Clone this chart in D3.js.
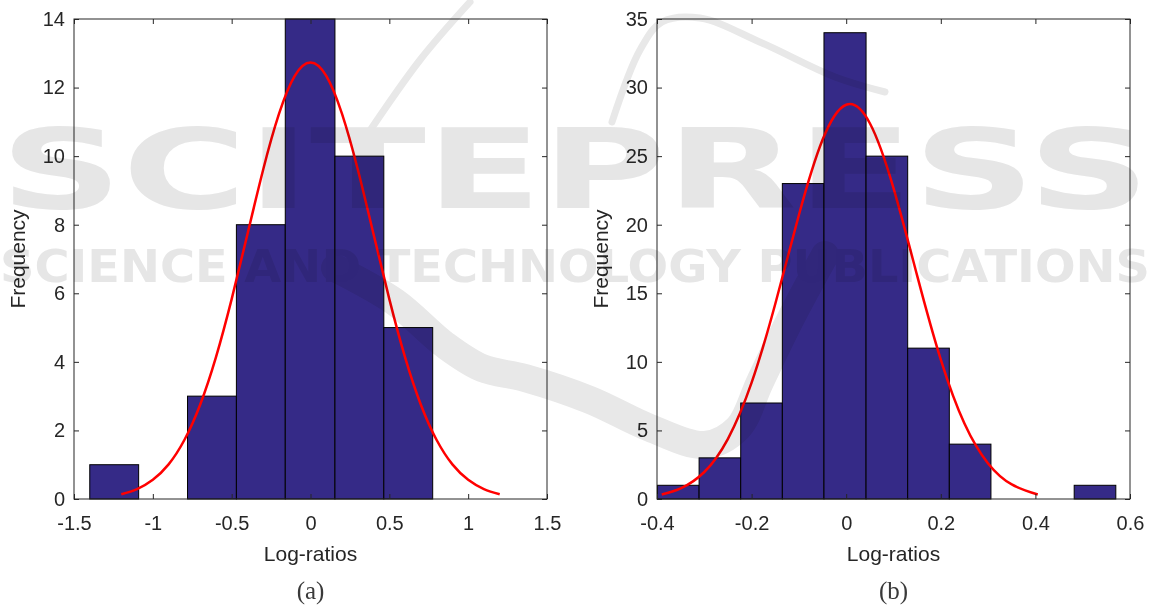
<!DOCTYPE html>
<html>
<head>
<meta charset="utf-8">
<script src="https://cdn.jsdelivr.net/npm/d3@7"></script>
<style>
  body { margin: 0; background: #fff; }
  text { font-family: "Liberation Sans", Arial, sans-serif; }
</style>
</head>
<body>
<div id="chart"></div>
<script>
// panel (a)
var edgesA = [-1.40, -1.09, -0.78, -0.47, -0.16, 0.155, 0.465, 0.775];
var countsA = [1, 0, 3, 8, 14, 10, 5];
var curveXA = [-1.2, -1.1, -1.0, -0.9, -0.8, -0.7, -0.6, -0.5, -0.4, -0.3, -0.2, -0.1, 0,
               0.1, 0.2, 0.3, 0.4, 0.5, 0.6, 0.7, 0.8, 0.9, 1.0, 1.1, 1.2];
var curveYA = [0.14, 0.29, 0.56, 1.01, 1.72, 2.75, 4.13, 5.83, 7.72, 9.61, 11.23, 12.34, 12.73,
               12.34, 11.23, 9.61, 7.72, 5.83, 4.13, 2.75, 1.72, 1.01, 0.56, 0.29, 0.14];
var xTicksA = [-1.5, -1, -0.5, 0, 0.5, 1, 1.5];
var yTicksA = [0, 2, 4, 6, 8, 10, 12, 14];

// panel (b)
var edgesB = [-0.399, -0.311, -0.223, -0.135, -0.047, 0.042, 0.130, 0.218, 0.306, 0.394, 0.482, 0.570];
var countsB = [1, 3, 7, 23, 34, 25, 11, 4, 0, 0, 1];
var curveXB = [-0.39, -0.35, -0.30, -0.25, -0.20, -0.15, -0.10, -0.05, 0.0, 0.05,
               0.10, 0.15, 0.20, 0.25, 0.30, 0.35, 0.405];
var curveYB = [0.33, 0.77, 1.97, 4.39, 8.48, 14.22, 20.71, 26.19, 28.75, 27.40,
               22.67, 16.29, 10.16, 5.50, 2.59, 1.06, 0.33];
var xTicksB = [-0.4, -0.2, 0, 0.2, 0.4, 0.6];
var yTicksB = [0, 5, 10, 15, 20, 25, 30, 35];

var width = 1150, height = 608;
var top_ = 19, bottom = 499;

var svg = d3.select("#chart")
  .append("svg")
  .attr("width", width)
  .attr("height", height);

function panel(opt) {
  var x = d3.scaleLinear().domain(opt.xDomain).range([opt.left, opt.right]);
  var y = d3.scaleLinear().domain(opt.yDomain).range([bottom, top_]);
  var g = svg.append("g");

  // bars
  var bins = opt.counts.map(function (c, i) {
    return { x0: opt.edges[i], x1: opt.edges[i + 1], n: c };
  }).filter(function (d) { return d.n > 0; });

  g.selectAll("rect.bar")
    .data(bins)
    .enter().append("rect")
    .attr("class", "bar")
    .attr("x", function (d) { return x(d.x0); })
    .attr("width", function (d) { return x(d.x1) - x(d.x0); })
    .attr("y", function (d) { return y(d.n); })
    .attr("height", function (d) { return y(0) - y(d.n); })
    .attr("fill", "#352a87")
    .attr("stroke", "#000")
    .attr("stroke-width", 1);

  // fitted curve
  var pts = opt.cx.map(function (v, i) { return [v, opt.cy[i]]; });
  g.append("path")
    .datum(pts)
    .attr("fill", "none")
    .attr("stroke", "#ff0000")
    .attr("stroke-width", 2.5)
    .attr("d", d3.line()
      .curve(d3.curveNatural)
      .x(function (d) { return x(d[0]); })
      .y(function (d) { return y(d[1]); }));

  // axes, ticks pointing inwards like matlab
  var fmt = function (d) { return String(d); };
  g.append("g")
    .attr("transform", "translate(0," + bottom + ")")
    .call(d3.axisBottom(x).tickValues(opt.xTicks).tickFormat(fmt)
      .tickSizeInner(-5).tickSizeOuter(0).tickPadding(17));
  g.append("g")
    .attr("transform", "translate(0," + top_ + ")")
    .call(d3.axisTop(x).tickValues(opt.xTicks).tickFormat("")
      .tickSizeInner(-5).tickSizeOuter(0));
  g.append("g")
    .attr("transform", "translate(" + opt.left + ",0)")
    .call(d3.axisLeft(y).tickValues(opt.yTicks).tickFormat(fmt)
      .tickSizeInner(-5).tickSizeOuter(0).tickPadding(9));
  g.append("g")
    .attr("transform", "translate(" + opt.right + ",0)")
    .call(d3.axisRight(y).tickValues(opt.yTicks).tickFormat("")
      .tickSizeInner(-5).tickSizeOuter(0));

  g.selectAll(".domain").remove();
  g.selectAll(".tick line").attr("stroke", "#262626");
  g.selectAll(".tick text")
    .attr("fill", "#262626")
    .style("font-size", "20px");

  g.append("rect")
    .attr("x", opt.left).attr("y", top_)
    .attr("width", opt.right - opt.left).attr("height", bottom - top_)
    .attr("fill", "none")
    .attr("stroke", "#262626")
    .attr("stroke-width", 1);

  // axis labels
  var cx = (opt.left + opt.right) / 2;
  g.append("text")
    .attr("x", cx).attr("y", 561)
    .attr("text-anchor", "middle")
    .attr("fill", "#262626")
    .style("font-size", "21px")
    .text("Log-ratios");

  g.append("text")
    .attr("transform", "translate(" + (opt.left - 49) + "," + ((top_ + bottom) / 2) + ") rotate(-90)")
    .attr("text-anchor", "middle")
    .attr("fill", "#262626")
    .style("font-size", "21px")
    .text("Frequency");

  g.append("text")
    .attr("x", cx).attr("y", 599)
    .attr("text-anchor", "middle")
    .attr("fill", "#3a3a3a")
    .style("font-family", "'Liberation Serif', 'DejaVu Serif', serif")
    .style("font-size", "25px")
    .text(opt.caption);
}

panel({ left: 74, right: 547, xDomain: [-1.5, 1.5], yDomain: [0, 14],
        edges: edgesA, counts: countsA, cx: curveXA, cy: curveYA,
        xTicks: xTicksA, yTicks: yTicksA, caption: "(a)" });

panel({ left: 657, right: 1130, xDomain: [-0.4, 0.6], yDomain: [0, 35],
        edges: edgesB, counts: countsB, cx: curveXB, cy: curveYB,
        xTicks: xTicksB, yTicks: yTicksB, caption: "(b)" });

// publisher watermark, light grey laid over everything
var wm = svg.append("g").style("mix-blend-mode", "multiply");
var swoosh = [[335, 268], [395, 302], [445, 345], [482, 368], [525, 378], [590, 400],
              [650, 428], [705, 445], [738, 428], [760, 382], [790, 320], [825, 255]];
var arcs = [
  [[365, 138], [420, 60], [470, 2]],
  [[612, 122], [640, 50], [662, 22], [700, 18], [762, 43], [835, 77], [885, 92]]
];
wm.append("path")
  .attr("d", d3.line().curve(d3.curveCatmullRom)(swoosh))
  .attr("fill", "none")
  .attr("stroke", "#e8e8e8")
  .attr("stroke-width", 28)
  .attr("stroke-linecap", "round")
  .attr("stroke-linejoin", "round");
wm.selectAll("path.arc")
  .data(arcs)
  .enter().append("path")
  .attr("class", "arc")
  .attr("d", d3.line().curve(d3.curveCatmullRom))
  .attr("fill", "none")
  .attr("stroke", "#e8e8e8")
  .attr("stroke-width", 7)
  .attr("stroke-linecap", "round");
wm.append("text")
  .attr("x", 0).attr("y", 208)
  .attr("textLength", 1150).attr("lengthAdjust", "spacingAndGlyphs")
  .attr("fill", "#e6e6e6")
  .style("font-family", "'DejaVu Sans', sans-serif")
  .style("font-weight", "bold")
  .style("font-size", "110px")
  .text("SCITEPRESS");
wm.append("text")
  .attr("x", 0).attr("y", 282)
  .attr("textLength", 1150).attr("lengthAdjust", "spacingAndGlyphs")
  .attr("fill", "#e6e6e6")
  .style("font-family", "'DejaVu Sans', sans-serif")
  .style("font-weight", "bold")
  .style("font-size", "44px")
  .text("SCIENCE AND TECHNOLOGY PUBLICATIONS");
</script>
</body>
</html>
